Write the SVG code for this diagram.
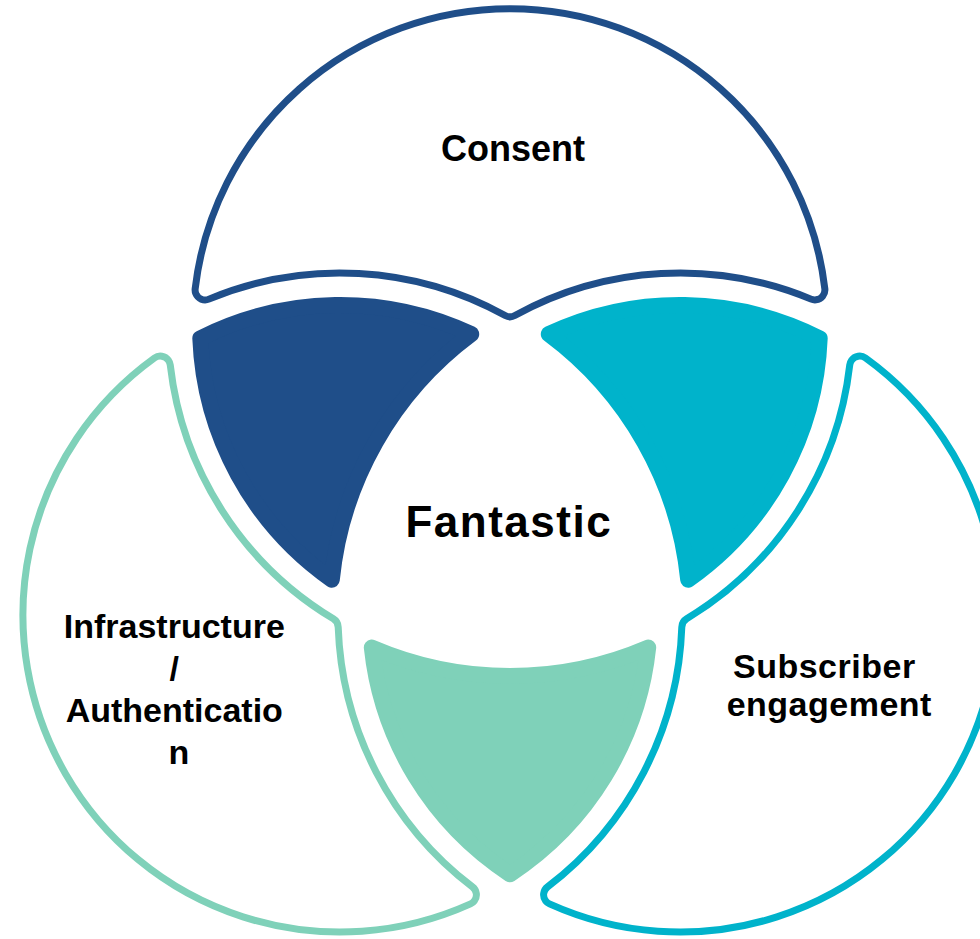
<svg xmlns="http://www.w3.org/2000/svg" xmlns:xlink="http://www.w3.org/1999/xlink" width="980" height="939" viewBox="0 0 980 939">
<style>
.lbl{font-family:"Liberation Sans",Arial,Helvetica,sans-serif;font-weight:bold;fill:#000;text-anchor:middle}
.ring{fill:none;stroke-width:27;stroke-linejoin:round}
.ringw{fill:#fff;stroke:#fff;stroke-width:13;stroke-linejoin:round}
.lens{stroke-width:16;stroke-linejoin:round}
</style>
<defs>
<path id="pTop" d="M205.1 289.9 A307 307 0 0 1 814.9 289.9 A352 352 0 0 0 510 306.8 A352 352 0 0 0 205.1 289.9 Z"/>
<path id="pLeft" d="M160.3 366.1 A352 352 0 0 0 328.2 627.4 A352 352 0 0 0 466.4 894.8 A307 307 0 0 1 160.3 366.1 Z"/>
<path id="pRight" d="M859.7 366.1 A352 352 0 0 1 691.8 627.4 A352 352 0 0 1 553.6 894.8 A307 307 0 0 0 859.7 366.1 Z"/>
</defs>
<rect width="980" height="939" fill="#fff"/>
<g id="consent">
<use xlink:href="#pTop" class="ring" stroke="#1F4E89"/>
<use xlink:href="#pTop" class="ringw"/>
<text class="lbl" x="513" y="161" font-size="36">Consent</text>
</g>
<g id="infrastructure">
<use xlink:href="#pLeft" class="ring" stroke="#7FD1B9"/>
<use xlink:href="#pLeft" class="ringw"/>
<text class="lbl" font-size="34">
<tspan x="179" y="638">Infrastructure</tspan>
<tspan x="179" y="680">/</tspan>
<tspan x="179" y="722">Authenticatio</tspan>
<tspan x="179" y="764">n</tspan>
</text>
</g>
<g id="subscriber">
<use xlink:href="#pRight" class="ring" stroke="#00B3CB"/>
<use xlink:href="#pRight" class="ringw"/>
<text class="lbl" font-size="34" letter-spacing="0.5">
<tspan x="829.3" y="678">Subscriber</tspan>
<tspan x="829.3" y="716">engagement</tspan>
</text>
</g>
<g id="overlap-consent-infra">
<path class="lens" fill="#1F4E89" stroke="#1F4E89" d="M200.3 338.3 A310 310 0 0 1 471.2 334.1 A350 350 0 0 0 331.8 579.7 A310 310 0 0 1 200.3 338.3 Z"/>
</g>
<g id="overlap-consent-subscriber">
<path class="lens" fill="#00B3CB" stroke="#00B3CB" d="M819.7 338.3 A310 310 0 0 0 548.8 334.1 A350 350 0 0 1 688.2 579.7 A310 310 0 0 0 819.7 338.3 Z"/>
</g>
<g id="overlap-infra-subscriber">
<path class="lens" fill="#7FD1B9" stroke="#7FD1B9" d="M371.8 647.5 A350 350 0 0 0 648.2 647.5 A310 310 0 0 1 510 874.2 A310 310 0 0 1 371.8 647.5 Z"/>
</g>
<g id="center">
<text class="lbl" x="508.8" y="537" font-size="44" letter-spacing="1.5">Fantastic</text>
</g>
<g id="connectors"></g>
</svg>
